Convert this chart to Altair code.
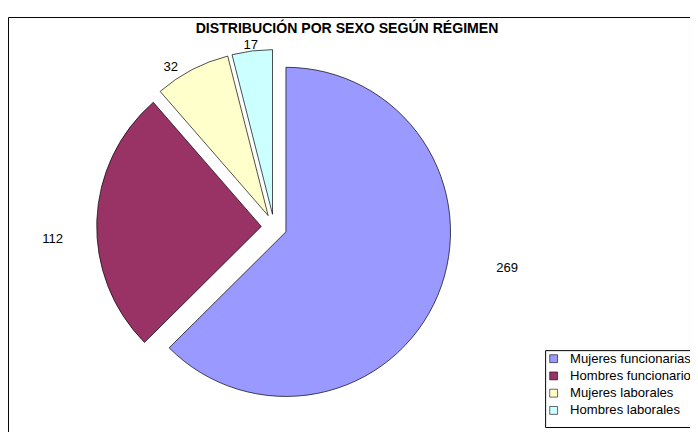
import altair as alt
import pandas as pd

categories = ["Mujeres funcionarias", "Hombres funcionarios", "Mujeres laborales", "Hombres laborales"]
values = [269, 112, 32, 17]
colors = ["#9999FF", "#993366", "#FFFFCC", "#CCFFFF"]

df = pd.DataFrame({"categoria": categories, "valor": values, "orden": list(range(len(categories)))})

# layout constants (view coordinates)
CX, CY = 270, 213
R = 167
EXPLODE = 13
LAB_A, LAB_B = 233, 190
LAB_DX, LAB_DY = 8, 4
LAB_FRAC = 0.45

base = (
    alt.Chart(df)
    .transform_joinaggregate(total="sum(valor)")
    .transform_window(cum="sum(valor)", sort=[alt.SortField("orden")], frame=[None, 0])
    .transform_calculate(
        t0="2*PI*(datum.cum - datum.valor)/datum.total",
        t1="2*PI*datum.cum/datum.total",
    )
    .transform_calculate(
        mid="(datum.t0 + datum.t1)/2",
        lang=f"datum.t0 + {LAB_FRAC}*(datum.t1 - datum.t0)",
    )
    .transform_calculate(
        cx=f"{CX} + {EXPLODE}*sin(datum.mid)",
        cy=f"{CY} - {EXPLODE}*cos(datum.mid)",
        lx=f"{CX + LAB_DX} + {LAB_A}*sin(datum.lang)",
        ly=f"{CY + LAB_DY} - {LAB_B}*cos(datum.lang)",
    )
)

arcs = base.mark_arc(radius=R, stroke="black", strokeWidth=0.7).encode(
    theta=alt.Theta("t0:Q", scale=None),
    theta2="t1:Q",
    x=alt.X("cx:Q", scale=None, axis=None),
    y=alt.Y("cy:Q", scale=None, axis=None),
    color=alt.Color(
        "categoria:N",
        sort=categories,
        scale=alt.Scale(domain=categories, range=colors),
        legend=alt.Legend(
            title=" ",
            titleOrient="bottom",
            titleFontSize=6,
            titlePadding=3,
            orient="none",
            legendX=545,
            legendY=338,
            symbolType="square",
            symbolSize=64,
            symbolStrokeColor="black",
            symbolStrokeWidth=0.6,
            symbolOpacity=1,
            labelFont="Liberation Sans",
            labelFontSize=13.3,
            labelColor="black",
            labelLimit=300,
            strokeColor="black",
            fillColor="white",
            padding=2,
            rowPadding=3.5,
            labelOffset=10,
        ),
    ),
)

labels = base.mark_text(font="Liberation Sans", fontSize=13.3, color="black").encode(
    x=alt.X("lx:Q", scale=None, axis=None),
    y=alt.Y("ly:Q", scale=None, axis=None),
    text="valor:Q",
)

chart = (
    alt.layer(arcs, labels)
    .properties(
        width=692,
        height=425,
        padding={"left": 0, "top": 6, "right": 0, "bottom": 0},
        autosize=alt.AutoSizeParams(type="none"),
        title=alt.TitleParams(
            "DISTRIBUCIÓN POR SEXO SEGÚN RÉGIMEN",
            font="Liberation Sans",
            fontSize=14.3,
            fontWeight="bold",
            color="black",
            anchor="middle",
            baseline="middle",
            offset=0,
            dx=-2,
            dy=27,
        ),
    )
    .configure_view(stroke="black", strokeWidth=1)
)

chart.save("out.html", embed_options={"renderer": "svg", "actions": False})
